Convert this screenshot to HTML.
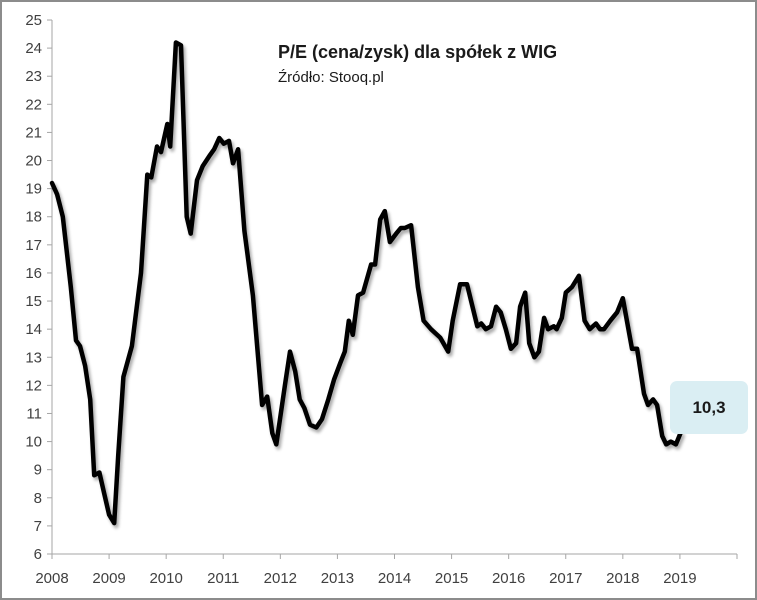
<!DOCTYPE html>
<html><head><meta charset="utf-8"><style>
html,body{margin:0;padding:0;background:#fff}
svg{display:block;font-family:"Liberation Sans",sans-serif}
</style></head><body>
<svg id="chart" width="757" height="600" viewBox="0 0 757 600">
<defs><filter id="sh" x="-5%" y="-5%" width="110%" height="110%"><feGaussianBlur in="SourceAlpha" stdDeviation="1.5"/><feOffset dx="2" dy="3"/><feComponentTransfer><feFuncA type="linear" slope="0.35"/></feComponentTransfer><feMerge><feMergeNode/><feMergeNode in="SourceGraphic"/></feMerge></filter></defs>
<rect x="1" y="1" width="755" height="598" fill="#fff" stroke="#8c8c8c" stroke-width="2"/>
<g id="axes"></g>
<g id="series"></g>
<text x="278" y="58" font-size="18" font-weight="bold" fill="#1a1a1a">P/E (cena/zysk) dla spółek z WIG</text>
<text x="278" y="82" font-size="15" fill="#1a1a1a">Źródło: Stooq.pl</text>
<rect x="670" y="381" width="78" height="53" rx="7" fill="#daeef3"/>
<text x="709" y="413" font-size="17" font-weight="bold" text-anchor="middle" fill="#1a1a1a">10,3</text>
</svg>
<script>
const dates=[2008.0,2008.09,2008.19,2008.33,2008.42,2008.49,2008.58,2008.67,2008.74,2008.83,2008.91,2009.0,2009.09,2009.16,2009.25,2009.4,2009.56,2009.67,2009.74,2009.84,2009.91,2010.02,2010.07,2010.17,2010.26,2010.36,2010.43,2010.54,2010.64,2010.77,2010.84,2010.93,2011.01,2011.1,2011.17,2011.26,2011.37,2011.52,2011.61,2011.68,2011.77,2011.86,2011.93,2012.08,2012.17,2012.26,2012.34,2012.42,2012.52,2012.63,2012.73,2012.84,2012.94,2013.05,2013.13,2013.2,2013.27,2013.36,2013.45,2013.59,2013.66,2013.75,2013.83,2013.92,2014.03,2014.11,2014.18,2014.29,2014.41,2014.51,2014.64,2014.8,2014.94,2015.02,2015.15,2015.27,2015.45,2015.52,2015.6,2015.69,2015.78,2015.86,2015.95,2016.04,2016.13,2016.2,2016.29,2016.36,2016.45,2016.53,2016.62,2016.69,2016.79,2016.84,2016.93,2017.0,2017.11,2017.23,2017.33,2017.42,2017.53,2017.6,2017.67,2017.78,2017.9,2018.0,2018.16,2018.25,2018.37,2018.44,2018.53,2018.6,2018.69,2018.76,2018.84,2018.93,2019.01];
const values=[19.2,18.8,18.0,15.5,13.6,13.4,12.7,11.5,8.8,8.9,8.2,7.4,7.1,9.5,12.3,13.4,16.0,19.5,19.4,20.5,20.3,21.3,20.5,24.2,24.1,18.0,17.4,19.3,19.8,20.2,20.4,20.8,20.6,20.7,19.9,20.4,17.5,15.2,13.0,11.3,11.6,10.3,9.9,12.0,13.2,12.5,11.5,11.2,10.6,10.5,10.8,11.5,12.2,12.8,13.2,14.3,13.8,15.2,15.3,16.3,16.3,17.9,18.2,17.1,17.4,17.6,17.6,17.7,15.5,14.3,14.0,13.7,13.2,14.3,15.6,15.6,14.1,14.2,14.0,14.1,14.8,14.6,14.0,13.3,13.5,14.8,15.3,13.5,13.0,13.2,14.4,14.0,14.1,14.0,14.4,15.3,15.5,15.9,14.3,14.0,14.2,14.0,14.0,14.3,14.6,15.1,13.3,13.3,11.7,11.3,11.5,11.3,10.2,9.9,10.0,9.9,10.3];
const yTicks=[6,7,8,9,10,11,12,13,14,15,16,17,18,19,20,21,22,23,24,25];
const xTicks=[2008,2009,2010,2011,2012,2013,2014,2015,2016,2017,2018,2019];
const NS='http://www.w3.org/2000/svg';
const X0=52,X1=737,Y0=554,Y1=20,yMin=6,yMax=25,xMin=2008,xMax=2020;
const xs=v=>X0+(v-xMin)/(xMax-xMin)*(X1-X0);
const ys=v=>Y0-(v-yMin)/(yMax-yMin)*(Y0-Y1);
const axes=document.getElementById('axes');
function mk(tag,attrs,parent){const e=document.createElementNS(NS,tag);for(const k in attrs)e.setAttribute(k,attrs[k]);parent.appendChild(e);return e;}
let yl=mk('line',{x1:X0,y1:Y1,x2:X0,y2:Y0,stroke:'#a6a6a6','stroke-width':1},axes);


let xl=mk('line',{x1:X0,y1:Y0,x2:X1,y2:Y0,stroke:'#a6a6a6','stroke-width':1},axes);


yTicks.forEach(t=>{
  const y=ys(t);
  const tk=mk('line',{x1:X0-5,y1:y,x2:X0,y2:y,stroke:'#a6a6a6'},axes);
  
  
  const tx=mk('text',{x:X0-10,y:y+5,'font-size':15,'text-anchor':'end',fill:'#404040'},axes);
  tx.textContent=t;
  
  
});
xTicks.concat([2020]).forEach(t=>{
  const x=xs(t);
  const tk=mk('line',{x1:x,y1:Y0,x2:x,y2:Y0+5,stroke:'#a6a6a6'},axes);
  
  
});
xTicks.forEach(t=>{
  const tx=mk('text',{x:xs(t),y:583,'font-size':15,'text-anchor':'middle',fill:'#404040'},axes);
  tx.textContent=t;
  
  
});
const d=dates.map((t,i)=>(i?'L':'M')+xs(t).toFixed(1)+','+ys(values[i]).toFixed(1)).join(' ');
const p=mk('path',{d:d,fill:'none',stroke:'#000','stroke-width':4.5,'stroke-linejoin':'round','stroke-linecap':'round',filter:'url(#sh)'},document.getElementById('series'));


</script>
</body></html>
